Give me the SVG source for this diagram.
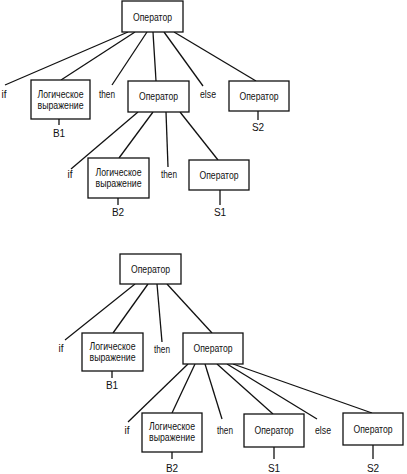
<svg xmlns="http://www.w3.org/2000/svg" width="407" height="474" viewBox="0 0 407 474">
<style>
.box{fill:#fff;stroke:#111;stroke-width:1.3}
.ln{stroke:#111;stroke-width:1.3;fill:none}
text{font-family:"Liberation Sans",Arial,sans-serif;font-size:10px;fill:#111;text-anchor:middle}
</style>
<rect width="407" height="474" fill="#fff"/>
<g id="connectors" class="ln">
<line x1="128" y1="32" x2="5" y2="85"/>
<line x1="135" y1="32" x2="61" y2="80"/>
<line x1="147" y1="32" x2="112" y2="85"/>
<line x1="153" y1="32" x2="156" y2="81"/>
<line x1="164" y1="32" x2="203" y2="86"/>
<line x1="174" y1="32" x2="256" y2="81"/>
<line x1="59" y1="119" x2="59" y2="125"/>
<line x1="258" y1="111" x2="258" y2="120"/>
<line x1="138" y1="112" x2="71" y2="169"/>
<line x1="153" y1="112" x2="119" y2="158"/>
<line x1="166" y1="112" x2="168" y2="167"/>
<line x1="180" y1="112" x2="218" y2="160"/>
<line x1="118" y1="198" x2="118" y2="205"/>
<line x1="220" y1="190" x2="220" y2="205"/>
<line x1="135" y1="284" x2="65" y2="340"/>
<line x1="148" y1="284" x2="113" y2="333"/>
<line x1="157" y1="284" x2="162" y2="342"/>
<line x1="167" y1="284" x2="212" y2="333"/>
<line x1="112" y1="371" x2="112" y2="378"/>
<line x1="188" y1="364" x2="128" y2="422"/>
<line x1="195" y1="364" x2="172" y2="413"/>
<line x1="205" y1="364" x2="222" y2="419"/>
<line x1="217" y1="364" x2="273" y2="414"/>
<line x1="227" y1="364" x2="317" y2="419"/>
<line x1="233" y1="364" x2="372" y2="413"/>
<line x1="172" y1="452" x2="172" y2="459"/>
<line x1="274" y1="447" x2="274" y2="459"/>
<line x1="373" y1="445" x2="373" y2="459"/>
</g>
<g id="t-root">
<rect class="box" x="122" y="1" width="61" height="31"/>
<text x="152.5" y="20.5" textLength="39" lengthAdjust="spacingAndGlyphs">Оператор</text>
</g>
<g id="t-if1"><text x="4" y="98">if</text></g>
<g id="t-b1">
<rect class="box" x="31" y="80" width="59" height="39"/>
<text x="60.5" y="97.5" textLength="46" lengthAdjust="spacingAndGlyphs">Логическое</text>
<text x="60.5" y="108.5" textLength="46" lengthAdjust="spacingAndGlyphs">выражение</text>
<text x="59" y="136.5">B1</text>
</g>
<g id="t-then1"><text x="107" y="98" textLength="16" lengthAdjust="spacingAndGlyphs">then</text></g>
<g id="t-op1">
<rect class="box" x="128" y="81" width="61" height="31"/>
<text x="158.5" y="100" textLength="39" lengthAdjust="spacingAndGlyphs">Оператор</text>
</g>
<g id="t-else1"><text x="208" y="98" textLength="16" lengthAdjust="spacingAndGlyphs">else</text></g>
<g id="t-s2">
<rect class="box" x="229" y="81" width="60" height="30"/>
<text x="259" y="100" textLength="39" lengthAdjust="spacingAndGlyphs">Оператор</text>
<text x="258" y="130.5">S2</text>
</g>
<g id="t-if2"><text x="70" y="177.5">if</text></g>
<g id="t-b2">
<rect class="box" x="88" y="158" width="61" height="40"/>
<text x="118.5" y="175.5" textLength="46" lengthAdjust="spacingAndGlyphs">Логическое</text>
<text x="118.5" y="186.5" textLength="46" lengthAdjust="spacingAndGlyphs">выражение</text>
<text x="118" y="215.5">B2</text>
</g>
<g id="t-then2"><text x="169" y="177.5" textLength="16" lengthAdjust="spacingAndGlyphs">then</text></g>
<g id="t-s1">
<rect class="box" x="189" y="160" width="60" height="30"/>
<text x="219" y="178.5" textLength="39" lengthAdjust="spacingAndGlyphs">Оператор</text>
<text x="220" y="215.5">S1</text>
</g>
<g id="b-root">
<rect class="box" x="120" y="254" width="61" height="30"/>
<text x="150.5" y="272.5" textLength="39" lengthAdjust="spacingAndGlyphs">Оператор</text>
</g>
<g id="b-if1"><text x="61" y="351.5">if</text></g>
<g id="b-b1">
<rect class="box" x="82" y="333" width="61" height="38"/>
<text x="112.5" y="349.5" textLength="46" lengthAdjust="spacingAndGlyphs">Логическое</text>
<text x="112.5" y="360.5" textLength="46" lengthAdjust="spacingAndGlyphs">выражение</text>
<text x="112" y="388.5">B1</text>
</g>
<g id="b-then1"><text x="162" y="352.5" textLength="16" lengthAdjust="spacingAndGlyphs">then</text></g>
<g id="b-op1">
<rect class="box" x="183" y="333" width="60" height="31"/>
<text x="213" y="351.5" textLength="39" lengthAdjust="spacingAndGlyphs">Оператор</text>
</g>
<g id="b-if2"><text x="127" y="433.5">if</text></g>
<g id="b-b2">
<rect class="box" x="142" y="413" width="60" height="39"/>
<text x="172" y="429.5" textLength="46" lengthAdjust="spacingAndGlyphs">Логическое</text>
<text x="172" y="441" textLength="46" lengthAdjust="spacingAndGlyphs">выражение</text>
<text x="172" y="471.5">B2</text>
</g>
<g id="b-then2"><text x="225" y="433.5" textLength="16" lengthAdjust="spacingAndGlyphs">then</text></g>
<g id="b-s1">
<rect class="box" x="244" y="414" width="60" height="33"/>
<text x="274" y="434" textLength="39" lengthAdjust="spacingAndGlyphs">Оператор</text>
<text x="274" y="471.5">S1</text>
</g>
<g id="b-else"><text x="323" y="433.5" textLength="16" lengthAdjust="spacingAndGlyphs">else</text></g>
<g id="b-s2">
<rect class="box" x="343" y="413" width="60" height="32"/>
<text x="373" y="433" textLength="39" lengthAdjust="spacingAndGlyphs">Оператор</text>
<text x="373" y="471.5">S2</text>
</g>
</svg>
